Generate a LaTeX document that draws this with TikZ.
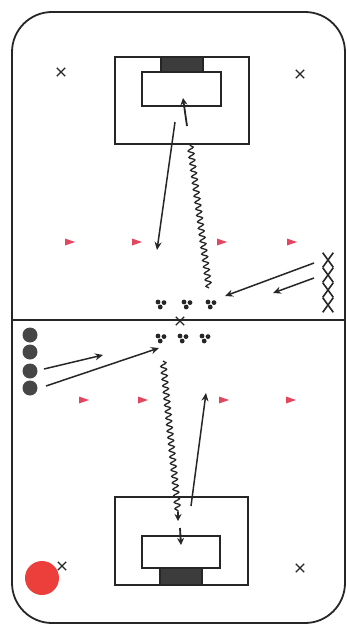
\documentclass[tikz,border=0pt]{standalone}
\usetikzlibrary{arrows.meta,decorations.pathmorphing,shapes.misc}
\definecolor{flagred}{RGB}{228,70,95}
\definecolor{ballred}{RGB}{236,62,58}
\definecolor{bardark}{RGB}{60,60,60}
\definecolor{dotgray}{RGB}{70,70,70}
\tikzset{
  field/.style={draw=black!85,line width=1.8pt,rounded corners=40pt},
  goalbox/.style={draw=black!85,line width=1.3pt},
  goalbar/.style={fill=bardark,draw=black!85,line width=1.3pt},
  cone/.style={cross out,draw=black!85,line width=1.3pt,minimum size=7pt,inner sep=0pt},
  attacker/.style={cross out,draw=black!85,line width=1.6pt,minimum width=9pt,minimum height=13pt,inner sep=0pt},
  defender/.style={circle,fill=dotgray,minimum size=15pt,inner sep=0pt},
  pass/.style={draw=black!85,line width=1.5pt,-{Stealth[length=8pt,width=7pt]}},
  dribble/.style={draw=black!85,line width=1.3pt,decorate,decoration={snake,segment length=6.5pt,amplitude=2.8pt,post length=0pt}},
  shot/.style={draw=black!85,line width=1.8pt,-{Stealth[length=7pt,width=7pt]}},
  pics/triad/.style={code={
    \fill[black!85] (-3,-2) circle (2.4pt);
    \fill[black!85] (3,-1.4) circle (2.4pt);
    \fill[black!85] (-0.8,3) circle (2.4pt);
  }},
  pics/flag/.style={code={
    \fill[flagred] (-5,-3.5) -- (5,0) -- (-5,3.5) -- cycle;
  }}
}
\begin{document}
\begin{tikzpicture}[x=1pt,y=-1pt]
\useasboundingbox (0,0) rectangle (347,626);
\fill[white] (0,0) rectangle (347,626);
% field
\draw[field] (12,12) rectangle (345,623);
\draw[black!85,line width=1.6pt] (12,320) -- (345,320);
\node[cone] (center) at (180,321) {};
% top goal
\draw[goalbox] (115,57) rectangle (249,144);
\draw[goalbar] (161,57) rectangle (203,72);
\draw[goalbox] (142,72) rectangle (221,106);
% bottom goal
\draw[goalbox] (115,497) rectangle (248,585);
\draw[goalbar] (160,568) rectangle (202,585);
\draw[goalbox] (142,536) rectangle (220,568);
% corner cones
\node[cone] (c1) at (61,72) {};
\node[cone] (c2) at (300,74) {};
\node[cone] (c3) at (62,566) {};
\node[cone] (c4) at (300,568) {};
% red ball
\node[circle,fill=ballred,minimum size=34pt,inner sep=0pt] (ball) at (42,578) {};
% flags
\foreach \x/\n in {70/a,137/b,222/c,292/d} \pic (ft\n) at (\x,242) {flag};
\foreach \x/\n in {84/a,143/b,224/c,291/d} \pic (fb\n) at (\x,400) {flag};
% player triads
\foreach \x/\n in {161/a,187/b,211/c} \pic (tt\n) at (\x,304) {triad};
\foreach \x/\n in {161/a,183/b,205/c} \pic (tb\n) at (\x,338) {triad};
% attackers column
\foreach \y/\n in {260/1,275/2,290/3,305/4} \node[attacker] (x\n) at (328,\y) {};
% defenders column
\foreach \y/\n in {335/1,352/2,371/3,388/4} \node[defender] (d\n) at (30,\y) {};
% arrow endpoints
\coordinate (a1s) at (175,122); \coordinate (a1e) at (157,250);
\coordinate (w1s) at (209,288); \coordinate (w1e) at (190,144);
\coordinate (s1s) at (187,126); \coordinate (s1e) at (183,98);
\coordinate (r1s) at (314,263); \coordinate (r1e) at (225,296);
\coordinate (r2s) at (314,278); \coordinate (r2e) at (273,293);
\coordinate (l1s) at (44,369); \coordinate (l1e) at (103,355);
\coordinate (l2s) at (46,386); \coordinate (l2e) at (159,348);
\coordinate (w2s) at (163,361); \coordinate (w2e) at (178,512);
\coordinate (w2a) at (178,521);
\coordinate (s2s) at (180,528); \coordinate (s2e) at (181,545);
\coordinate (a2s) at (191,506); \coordinate (a2e) at (206,393);
% connectors
\draw[pass] (a1s) -- (a1e);
\draw[dribble] (w1s) -- (w1e);
\draw[shot] (s1s) -- (s1e);
\draw[pass] (r1s) -- (r1e);
\draw[pass] (r2s) -- (r2e);
\draw[pass] (l1s) -- (l1e);
\draw[pass] (l2s) -- (l2e);
\draw[dribble] (w2s) -- (w2e);
\draw[black!85,line width=1.3pt,-{Stealth[length=7pt,width=7pt]}] (w2e) -- (w2a);
\draw[shot] (s2s) -- (s2e);
\draw[pass] (a2s) -- (a2e);
\end{tikzpicture}
\end{document}
